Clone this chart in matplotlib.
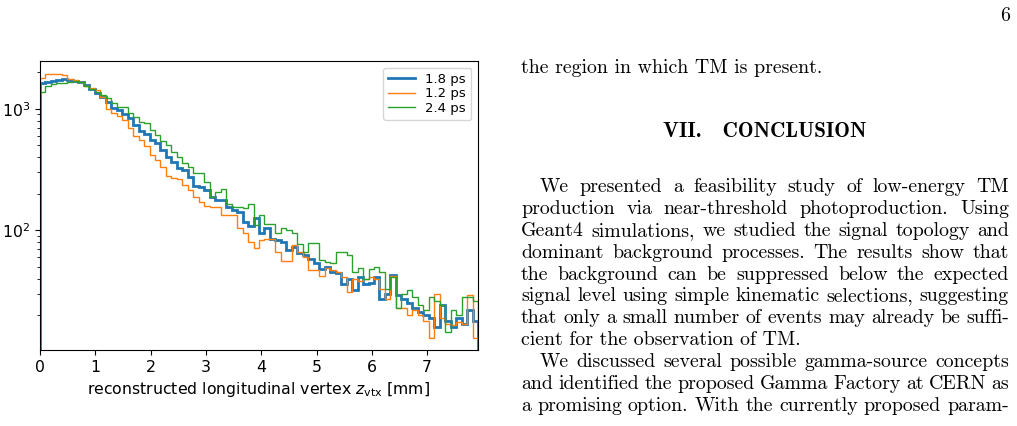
import numpy as np
import matplotlib.pyplot as plt
from matplotlib.transforms import IdentityTransform

# reconstructed z_vtx histograms, 80 equal bins between z_lo and z_hi [mm]
z_lo, z_hi, n_bins = 0.0, 7.92, 80

counts_18ps = [1630, 1660, 1710, 1740, 1760, 1720, 1710, 1650, 1570, 1450,
               1350, 1264, 1149, 1013, 981, 909, 838, 738, 662, 617,
               555, 520, 458, 404, 367, 323, 314, 275, 230, 225,
               214, 189, 177, 177, 156, 146, 140, 117, 108, 125,
               94, 104, 85, 83, 80, 69, 73, 65, 62, 58,
               54, 48, 50, 45, 44, 36, 40, 32, 41, 36,
               37, 41, 27, 30, 43, 29, 27, 25, 23, 21,
               20, 19, 16, 24, 18, 16, 19, 17, 22, 18]

counts_12ps = [1790, 1946, 1946, 1946, 1900, 1750, 1714, 1650, 1530, 1483,
               1417, 1264, 1000, 932, 875, 811, 693, 598, 555, 494,
               420, 380, 330, 280, 267, 262, 235, 214, 189, 172,
               158, 156, 156, 133, 133, 133, 104, 94, 80, 71,
               83, 84, 84, 66, 56, 56, 75, 66, 60, 47,
               47, 42, 49, 47, 45, 41, 31, 40, 38, 40,
               41, 40, 33, 27, 42, 23, 23, 20, 22, 20,
               18, 13, 30, 19, 17, 16.5, 17.5, 17, 29, 13]

counts_24ps = [1390, 1530, 1600, 1620, 1640, 1680, 1704, 1650, 1550, 1454,
               1390, 1305, 1226, 1115, 1045, 1045, 921, 864, 785, 770,
               671, 610, 547, 504, 443, 404, 356, 334, 298, 298,
               251, 189, 207, 217, 166, 156, 154, 151, 164, 110,
               133, 112, 112, 95, 105, 100, 95, 77, 66, 79,
               78, 57, 55, 54, 66, 66, 62, 45, 49, 40,
               48, 50, 45, 33, 41, 23, 30, 32, 28, 24,
               22, 28, 26, 24, 14.5, 22, 20, 28, 28, 26]

series = [('1.8 ps', counts_18ps, '#1f77b4', 2.0),
          ('1.2 ps', counts_12ps, '#ff7f0e', 1.0),
          ('2.4 ps', counts_24ps, '#2ca02c', 1.0)]

x_ticks = [0, 1, 2, 3, 4, 5, 6, 7]

# page text next to the figure
page_number = '6'
first_line = 'the region in which TM is present.'
section_title = 'VII.   CONCLUSION'
# (text, indented, justified)
para_lines = [
    ('We presented a feasibility study of low-energy TM', True, True),
    ('production via near-threshold photoproduction.  Using', False, True),
    ('Geant4 simulations, we studied the signal topology and', False, True),
    ('dominant background processes.  The results show that', False, True),
    ('the background can be suppressed below the expected', False, True),
    ('signal level using simple kinematic selections, suggesting', False, True),
    ('that only a small number of events may already be suffi-', False, True),
    ('cient for the observation of TM.', False, False),
    ('We discussed several possible gamma-source concepts', True, True),
    ('and identified the proposed Gamma Factory at CERN as', False, True),
    ('a promising option.  With the currently proposed param-', False, True),
]

W, H = 1017, 426
fig = plt.figure(figsize=(W / 100, H / 100), dpi=100)
ax = fig.add_axes([40 / W, 1 - 350 / H, 438 / W, 289 / H])

edges = np.linspace(z_lo, z_hi, n_bins + 1)
for lab, counts, col, lw in series:
    ax.stairs(counts, edges, baseline=1, color=col, lw=lw, label=lab)

ax.set_yscale('log')
ax.set_xlim(z_lo, z_hi)
ax.set_ylim(10.3, 2480)
ax.set_xticks(x_ticks)
ax.tick_params(labelsize=11.3)
ax.set_xlabel(r'reconstructed longitudinal vertex $z_{\mathrm{vtx}}$ [mm]', fontsize=11.3)
ax.legend(loc='upper right', fontsize=9.5, labelspacing=0.1)

# ---- text column (pixel coordinates) ----
rend = fig.canvas.get_renderer()
body = dict(family='cmr10', fontsize=14.3)
col_left, col_right, indent = 521, 1009, 19


def put_text(x, y, s, **kw):
    return fig.text(x, H - y, s, transform=IdentityTransform(), va='baseline', **kw)


def justified(x0, x1, y, s, **kw):
    words = s.split()
    objs = [put_text(0, y, w, **kw) for w in words]
    widths = [o.get_window_extent(rend).width for o in objs]
    gap = (x1 - x0 - sum(widths)) / (len(words) - 1)
    x = x0
    for o, w in zip(objs, widths):
        o.set_x(x)
        x += w + gap


put_text(1010, 21, page_number, ha='right', **body)
put_text(col_left, 73, first_line, **body)
put_text((col_left + col_right) / 2, 137, section_title, ha='center',
         family='cmb10', fontsize=15.2)

y = 192
for s, ind, just in para_lines:
    x0 = col_left + (indent if ind else 0)
    if just:
        justified(x0, col_right, y, s, **body)
    else:
        put_text(x0, y, s, **body)
    y += 21.9

fig.savefig('out.png', dpi=100)
